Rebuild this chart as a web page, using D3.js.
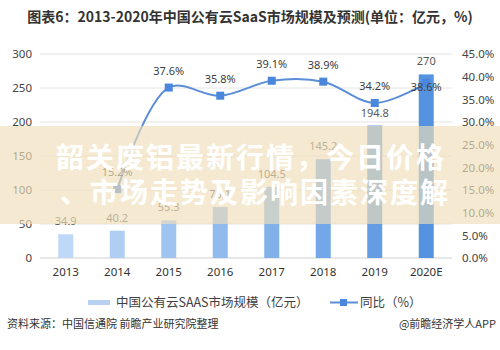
<!DOCTYPE html>
<html>
<head>
<meta charset="utf-8">
<script src="https://cdn.jsdelivr.net/npm/d3@7"></script>
<style>
  body { margin: 0; background: #fff; }
  svg { display: block; font-family: "Noto Sans CJK SC", "Noto Sans", sans-serif; }
</style>
</head>
<body>
<script>
var years = ["2013", "2014", "2015", "2016", "2017", "2018", "2019", "2020E"];
var marketSize = [34.9, 40.2, 55.3, 75.1, 104.5, 145.2, 194.8, 270];
var growth = [null, 15.2, 37.6, 35.8, 39.1, 38.9, 34.2, 38.6];
var leftTicks = [0, 50, 100, 150, 200, 250, 300];
var rightTicks = [0, 5, 10, 15, 20, 25, 30, 35, 40, 45];

var width = 500, height = 350;
var plotLeft = 40, plotRight = 452, plotTop = 54, plotBottom = 258;

let svg = d3.select("body").append("svg")
    .attr("width", width)
    .attr("height", height);

// title
svg.append("text")
    .attr("x", 250).attr("y", 22)
    .attr("text-anchor", "middle")
    .attr("font-size", "14px")
    .attr("font-weight", "bold")
    .attr("fill", "#333")
    .text("图表6：2013-2020年中国公有云SaaS市场规模及预测(单位：亿元，%)");

let x = d3.scaleBand().domain(years).range([plotLeft, plotRight]);
let y = d3.scaleLinear().domain([0, 300]).range([plotBottom, plotTop]);
let y2 = d3.scaleLinear().domain([0, 45]).range([plotBottom, plotTop]);
let barColor = d3.scaleLinear().domain([0, years.length - 1]).range(["#bed8f7", "#5593e0"]);

// grid lines
svg.append("g").selectAll("line")
    .data(leftTicks)
    .enter().append("line")
    .attr("x1", plotLeft).attr("x2", plotRight)
    .attr("y1", d => y(d)).attr("y2", d => y(d))
    .attr("stroke", d => d === 0 ? "#d0d0d0" : "#e4e4e4")
    .attr("stroke-width", 1);

// left axis
let yAxis = d3.axisLeft(y).tickValues(leftTicks).tickSize(0).tickPadding(8);
let gy = svg.append("g").attr("transform", "translate(" + plotLeft + ",0)").call(yAxis);
gy.select(".domain").remove();
gy.selectAll("text").attr("font-size", "11.5px").attr("fill", "#444").attr("font-family", "Noto Sans, sans-serif");

// right axis
let y2Axis = d3.axisRight(y2).tickValues(rightTicks).tickSize(0).tickPadding(10)
    .tickFormat(d => d.toFixed(1) + "%");
let gy2 = svg.append("g").attr("transform", "translate(" + plotRight + ",0)").call(y2Axis);
gy2.select(".domain").remove();
gy2.selectAll("text").attr("font-size", "11.5px").attr("fill", "#444").attr("font-family", "Noto Sans, sans-serif");

// x axis
let xAxis = d3.axisBottom(x).tickSize(0).tickPadding(10);
let gx = svg.append("g").attr("transform", "translate(0," + plotBottom + ")").call(xAxis);
gx.select(".domain").remove();
gx.selectAll("text").attr("font-size", "11.5px").attr("fill", "#333").attr("font-family", "Noto Sans, sans-serif");

// bars
let barW = 15;
svg.append("g").selectAll("rect")
    .data(marketSize)
    .enter().append("rect")
    .attr("x", (d, i) => x(years[i]) + x.bandwidth() / 2 - barW / 2)
    .attr("y", d => y(d))
    .attr("width", barW)
    .attr("height", d => plotBottom - y(d))
    .attr("fill", (d, i) => barColor(i));

// bar labels
svg.append("g").selectAll("text")
    .data(marketSize)
    .enter().append("text")
    .attr("x", (d, i) => x(years[i]) + x.bandwidth() / 2)
    .attr("y", d => y(d) - 9)
    .attr("text-anchor", "middle")
    .attr("font-size", "11px")
    .attr("font-family", "Noto Sans, sans-serif")
    .attr("fill", "#595959")
    .text(d => d);

// growth line
let pts = growth.map((g, i) => ({ year: years[i], v: g })).filter(d => d.v !== null);
let line = d3.line()
    .x(d => x(d.year) + x.bandwidth() / 2)
    .y(d => y2(d.v))
    .curve(d3.curveCatmullRom.alpha(0.5));

svg.append("path")
    .datum(pts)
    .attr("d", line)
    .attr("fill", "none")
    .attr("stroke", "#5b8ed6")
    .attr("stroke-width", 2);

svg.append("g").selectAll("rect")
    .data(pts)
    .enter().append("rect")
    .attr("x", d => x(d.year) + x.bandwidth() / 2 - 4)
    .attr("y", d => y2(d.v) - 4)
    .attr("width", 8).attr("height", 8)
    .attr("fill", "#4a86dc");

// last label sits on its marker, as in the source chart
svg.append("g").selectAll("text")
    .data(pts)
    .enter().append("text")
    .attr("x", d => x(d.year) + x.bandwidth() / 2)
    .attr("y", (d, i) => i === pts.length - 1 ? y2(d.v) + 8 : y2(d.v) - 13)
    .attr("text-anchor", "middle")
    .attr("font-size", "11px")
    .attr("font-family", "Noto Sans, sans-serif")
    .attr("fill", "#404040")
    .text(d => d.v.toFixed(1) + "%");

// legend
let lg = svg.append("g");
lg.append("rect").attr("x", 88).attr("y", 300).attr("width", 22).attr("height", 5).attr("fill", "#b7d1f1");
lg.append("text").attr("x", 116).attr("y", 307).attr("font-size", "12.5px").attr("fill", "#404040")
    .text("中国公有云SAAS市场规模（亿元）");
lg.append("line").attr("x1", 330).attr("x2", 358).attr("y1", 302.5).attr("y2", 302.5)
    .attr("stroke", "#5b8ed6").attr("stroke-width", 2);
lg.append("rect").attr("x", 340).attr("y", 299).attr("width", 7).attr("height", 7).attr("fill", "#4a86dc");
lg.append("text").attr("x", 360).attr("y", 307).attr("font-size", "12.5px").attr("fill", "#404040")
    .text("同比（%）");

// source
svg.append("text").attr("x", 7).attr("y", 328).attr("font-size", "11px").attr("fill", "#333")
    .text("资料来源：中国信通院 前瞻产业研究院整理");
svg.append("text").attr("x", 496).attr("y", 328).attr("text-anchor", "end").attr("font-size", "11px").attr("fill", "#333")
    .text("@前瞻经济学人APP");

// overlay banner
svg.append("rect").attr("x", 0).attr("y", 126).attr("width", width).attr("height", 98)
    .attr("fill", "rgb(240,222,185)").attr("fill-opacity", 0.65);
let banner = ["韶关废铝最新行情，今日价格", "、市场走势及影响因素深度解"];
svg.append("g").selectAll("text")
    .data(banner)
    .enter().append("text")
    .attr("x", (d, i) => i === 0 ? 56 : 60)
    .attr("y", (d, i) => 168 + i * 35)
    .attr("font-size", "28px")
    .attr("font-weight", "bold")
    .attr("letter-spacing", "2px")
    .attr("fill", "#fff")
    .text(d => d);
</script>
</body>
</html>
